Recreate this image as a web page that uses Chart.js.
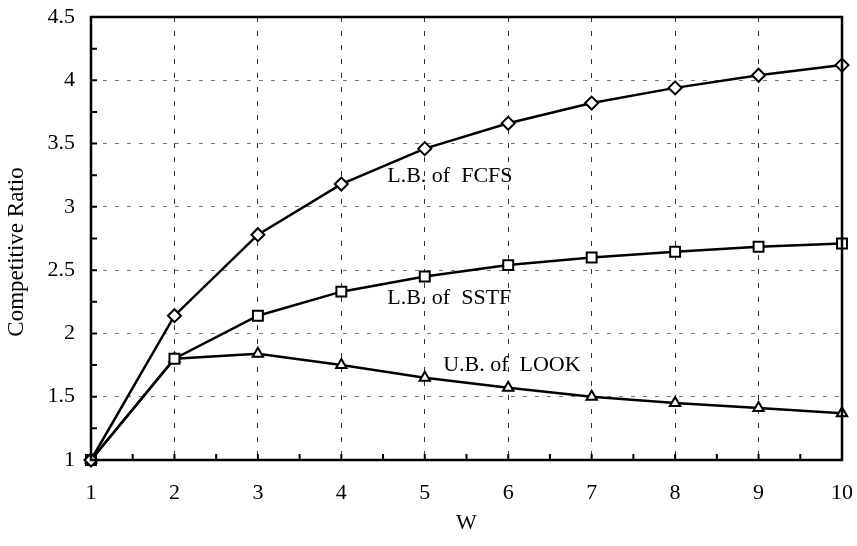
<!DOCTYPE html>
<html>
<head>
<meta charset="utf-8">
<script src="https://cdn.jsdelivr.net/npm/chart.js@4/dist/chart.umd.min.js"></script>
<style>
  body { margin: 0; background: #fff; }
</style>
</head>
<body>
<canvas id="myChart" width="857" height="546"></canvas>
<script>
const wValues = [1, 2, 3, 4, 5, 6, 7, 8, 9, 10];
const fcfsLB = [1, 2.14, 2.78, 3.18, 3.46, 3.66, 3.82, 3.94, 4.04, 4.12];
const sstfLB = [1, 1.8, 2.14, 2.33, 2.45, 2.54, 2.6, 2.645, 2.685, 2.71];
const lookUB = [1, 1.8, 1.84, 1.75, 1.65, 1.57, 1.5, 1.45, 1.41, 1.37];

// text labels inside the plot (data coordinates of the left/middle of the text)
const notes = [
    { text: 'L.B. of  FCFS', x: 4.55, y: 3.24 },
    { text: 'L.B. of  SSTF', x: 4.55, y: 2.28 },
    { text: 'U.B. of  LOOK', x: 5.22, y: 1.75 }
];

const FONT = '"Liberation Serif", "Times New Roman", serif';

function toPoints(ys) {
    return wValues.map((w, i) => ({ x: w, y: ys[i] }));
}

function series(label, ys, style, radius) {
    return {
        label: label,
        data: toPoints(ys),
        borderColor: '#000',
        borderWidth: 2.5,
        backgroundColor: '#fff',
        pointStyle: style,
        pointRadius: radius,
        pointBorderWidth: 2,
        pointBackgroundColor: '#fff',
        pointBorderColor: '#000',
        tension: 0,
        clip: false
    };
}

// frame, inward tick marks, y title and the text notes
const framePlugin = {
    id: 'frame',
    afterDraw(chart) {
        const ctx = chart.ctx;
        const a = chart.chartArea;
        const xs = chart.scales.x, ys = chart.scales.y;
        ctx.save();
        ctx.strokeStyle = '#000';
        ctx.lineWidth = 2;
        ctx.beginPath();
        for (let v = 1; v <= 10.001; v += 0.5) {
            const px = xs.getPixelForValue(v);
            ctx.moveTo(px, a.bottom);
            ctx.lineTo(px, a.bottom - 6);
        }
        for (let v = 1; v <= 4.501; v += 0.25) {
            const py = ys.getPixelForValue(v);
            ctx.moveTo(a.left, py);
            ctx.lineTo(a.left + 6, py);
        }
        ctx.stroke();
        ctx.lineWidth = 2.5;
        ctx.strokeRect(a.left, a.top, a.right - a.left, a.bottom - a.top);

        ctx.fillStyle = '#000';
        ctx.font = '22px ' + FONT;
        ctx.textBaseline = 'middle';
        ctx.textAlign = 'left';
        notes.forEach(n => {
            ctx.fillText(n.text, xs.getPixelForValue(n.x), ys.getPixelForValue(n.y));
        });

        ctx.font = '23px ' + FONT;
        ctx.textAlign = 'center';
        ctx.translate(17, 252);
        ctx.rotate(-Math.PI / 2);
        ctx.fillText('Competitive Ratio', 0, 0);
        ctx.restore();
    }
};

document.addEventListener('DOMContentLoaded', function () {
    const ctx = document.getElementById('myChart').getContext('2d');
    new Chart(ctx, {
        type: 'line',
        data: {
            datasets: [
                series('L.B. of FCFS', fcfsLB, 'rectRot', 6.5),
                series('L.B. of SSTF', sstfLB, 'rect', 7),
                series('U.B. of LOOK', lookUB, 'triangle', 6)
            ]
        },
        options: {
            responsive: false,
            animation: false,
            layout: { padding: { top: 17, right: 15, left: 0, bottom: 0 } },
            plugins: {
                legend: { display: false },
                tooltip: { enabled: false }
            },
            scales: {
                x: {
                    type: 'linear',
                    min: 1,
                    max: 10,
                    afterFit(scale) {
                        scale.height = 86;
                        scale.paddingLeft = 0;
                        scale.paddingRight = 0;
                    },
                    ticks: {
                        stepSize: 1,
                        color: '#000',
                        padding: 20,
                        font: { family: FONT, size: 22 }
                    },
                    grid: {
                        color: '#333',
                        lineWidth: 1,
                        drawTicks: false
                    },
                    border: { display: false, dash: [5, 9] },
                    title: {
                        display: true,
                        text: 'W',
                        color: '#000',
                        font: { family: FONT, size: 22 },
                        padding: { top: 0, bottom: 10 }
                    }
                },
                y: {
                    min: 1,
                    max: 4.5,
                    afterFit(scale) {
                        scale.width = 91;
                        scale.paddingTop = 0;
                        scale.paddingBottom = 0;
                    },
                    ticks: {
                        stepSize: 0.5,
                        color: '#000',
                        padding: 16,
                        font: { family: FONT, size: 22 },
                        callback: v => String(v)
                    },
                    grid: {
                        color: '#777',
                        lineWidth: 1,
                        drawTicks: false
                    },
                    border: { display: false, dash: [4, 8] }
                }
            }
        },
        plugins: [framePlugin]
    });
});
</script>
</body>
</html>
